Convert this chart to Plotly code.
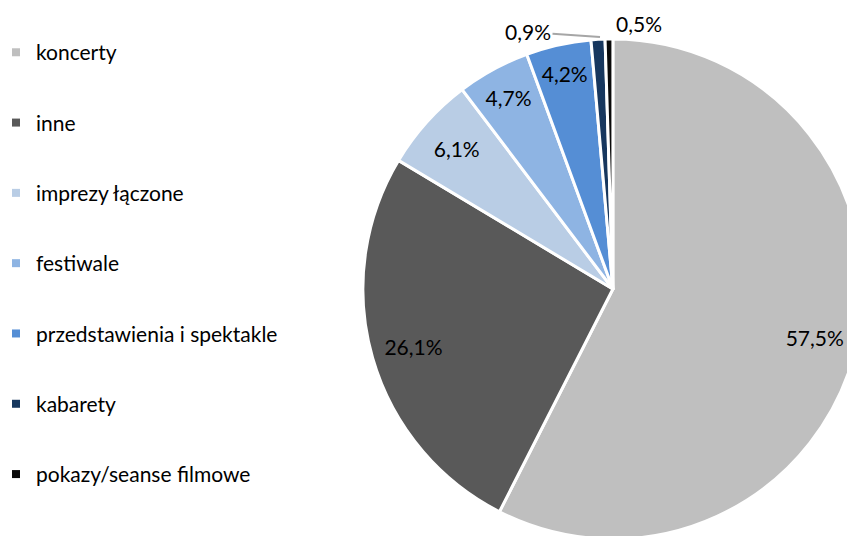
import plotly.graph_objects as go

categories = ["koncerty", "inne", "imprezy łączone", "festiwale",
              "przedstawienia i spektakle", "kabarety", "pokazy/seanse filmowe"]
values = [57.5, 26.1, 6.1, 4.7, 4.2, 0.9, 0.5]
colors = ["#BFBFBF", "#595959", "#B9CDE5", "#8EB4E3", "#558ED5", "#17375E", "#0A0A0A"]

FONT = "Lato"
FS = 21
W, H = 855, 536
DOMAIN = dict(x=[0.415, 1.0], y=[0.0093, 0.9422])

def fmt(v):
    return f"{v:.1f}%".replace(".", ",")

# main pie: labels for the mid-size slices only
main_pos = ["none", "none", "inside", "inside", "inside", "none", "none"]
fig = go.Figure()
fig.add_trace(go.Pie(
    labels=categories, values=values, sort=False,
    direction="clockwise", rotation=0,
    marker=dict(colors=colors, line=dict(color="white", width=3)),
    texttemplate="%{value:.1f}%", textposition=main_pos,
    insidetextorientation="horizontal",
    textfont=dict(family=FONT, size=FS, color="black"),
    showlegend=False, hoverinfo="label+value",
    domain=DOMAIN,
))

# transparent ring overlay: places the large-slice labels further out
ring_pos = ["inside", "inside", "none", "none", "none", "none", "none"]
fig.add_trace(go.Pie(
    labels=categories, values=values, sort=False,
    direction="clockwise", rotation=0, hole=0.66,
    marker=dict(colors=["rgba(0,0,0,0)"] * len(values), line=dict(width=0)),
    texttemplate="%{value:.1f}%", textposition=ring_pos,
    insidetextorientation="horizontal",
    textfont=dict(family=FONT, size=FS, color="black"),
    showlegend=False, hoverinfo="skip",
    domain=DOMAIN,
))

for cat, col in zip(categories, colors):
    fig.add_trace(go.Scatter(
        x=[None], y=[None], mode="markers", name=cat,
        marker=dict(symbol="square", size=8, color=col),
        legendgroup=cat, showlegend=True,
    ))

# outside labels for the two tiny slices
fig.add_annotation(xref="paper", yref="paper",
                   x=592 / W, y=1 - 29 / H, ax=-72, ay=-5,
                   xanchor="center", yanchor="middle",
                   text=fmt(values[5]), showarrow=True, arrowhead=0,
                   arrowcolor="#A6A6A6", arrowwidth=2,
                   font=dict(family=FONT, size=FS, color="black"))
fig.add_annotation(xref="paper", yref="paper",
                   x=631 / W, y=1 - 15 / H, showarrow=False,
                   xanchor="center", yanchor="middle",
                   text=fmt(values[6]),
                   font=dict(family=FONT, size=FS, color="black"))

fig.update_layout(
    width=W, height=H,
    margin=dict(l=0, r=0, t=0, b=0, autoexpand=False),
    paper_bgcolor="white", plot_bgcolor="white",
    separators=", ",
    font=dict(family=FONT, size=FS, color="black"),
    xaxis=dict(visible=False), yaxis=dict(visible=False),
    legend=dict(x=0.0, y=0.955, xanchor="left", yanchor="top",
                indentation=-12,
                tracegroupgap=40, font=dict(family=FONT, size=FS, color="black"),
                itemwidth=30, bgcolor="rgba(0,0,0,0)"),
)

fig.write_html("out.html")
